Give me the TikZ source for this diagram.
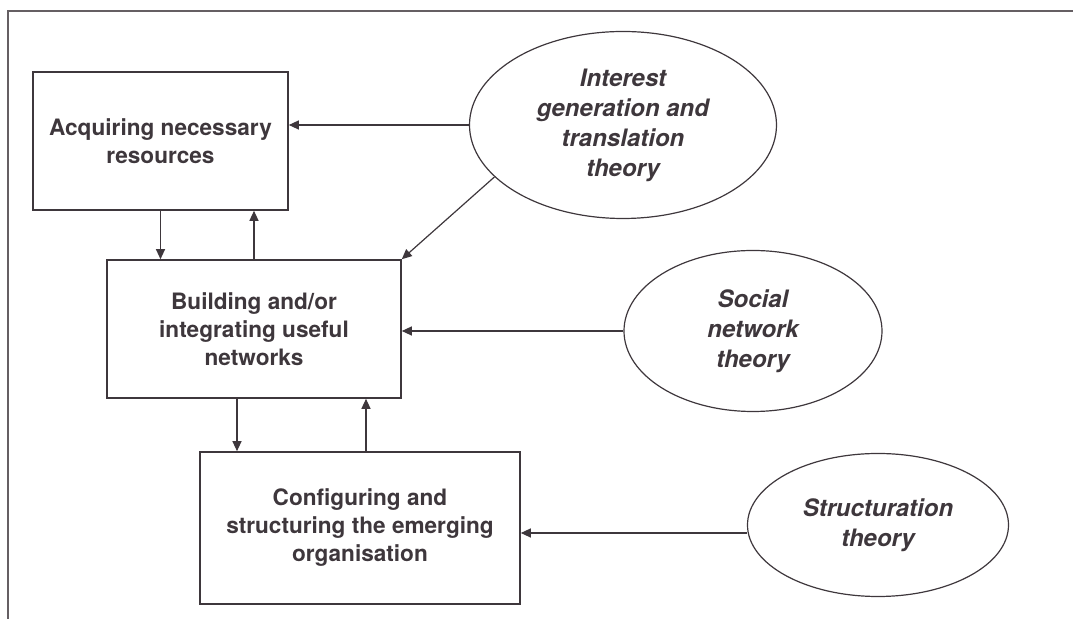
\documentclass[tikz,border=0pt]{standalone}
\usepackage{fontspec}
\setmainfont{TeX Gyre Heros}
\usetikzlibrary{shapes.geometric,arrows.meta}

\definecolor{ink}{RGB}{62,55,60}

\tikzset{
  stagebox/.style={draw=ink, thick, text=ink, align=center, inner sep=0pt,
    font=\fontsize{11.3}{14}\selectfont\bfseries},
  theory/.style={draw=ink, ellipse, semithick, text=ink, align=center, inner sep=0pt,
    font=\fontsize{12}{15}\selectfont\bfseries\itshape},
  link/.style={-{Triangle[length=5pt,width=4.5pt]}, draw=ink, semithick}
}

\begin{document}
\begin{tikzpicture}[x=0.5pt, y=-0.5pt]
  \useasboundingbox (0,0) rectangle (1073,619);

  % page frame (top and left edge of the figure panel)
  \draw[ink!80, semithick] (1073,11) -- (8,11) -- (8,619);

  % Stages (left)
  \node[stagebox, minimum width=127.5pt, minimum height=69pt] (acq) at (160.5,141)
    {Acquiring necessary\\resources};
  \node[stagebox, minimum width=147pt, minimum height=69pt] (bld) at (254,329)
    {Building and/or\\integrating useful\\networks};
  \node[stagebox, minimum width=160pt, minimum height=76pt] (cfg) at (360,528)
    {Configuring and\\structuring the emerging\\organisation};

  % Theories (right)
  \node[theory, minimum width=153.5pt, minimum height=93.5pt] (int) at (623,125)
    {Interest\\generation and\\translation\\theory};
  \node[theory, minimum width=129pt, minimum height=80.5pt] (soc) at (753,331)
    {Social\\network\\theory};
  \node[theory, minimum width=130.5pt, minimum height=71.5pt] (str) at (878,525)
    {Structuration\\theory};

  % Between the stages
  \draw[link] (acq.south) -- (acq.south |- bld.north);
  \draw[link] (bld.north) -- (bld.north |- acq.south);
  \draw[link] ([xshift=-8.5pt]bld.south) -- ([xshift=-8.5pt]bld.south |- cfg.north);
  \draw[link] ([xshift=3pt]cfg.north) -- ([xshift=3pt]cfg.north |- bld.south);

  % From the theories
  \draw[link] (int.west) -- (int.west -| acq.east);
  \draw[link] (int.202) -- (bld.north east);
  \draw[link] (soc.west) -- (soc.west -| bld.east);
  \draw[link] ([yshift=-4pt]str.west) -- ([yshift=-4pt]str.west -| cfg.east);
\end{tikzpicture}
\end{document}
